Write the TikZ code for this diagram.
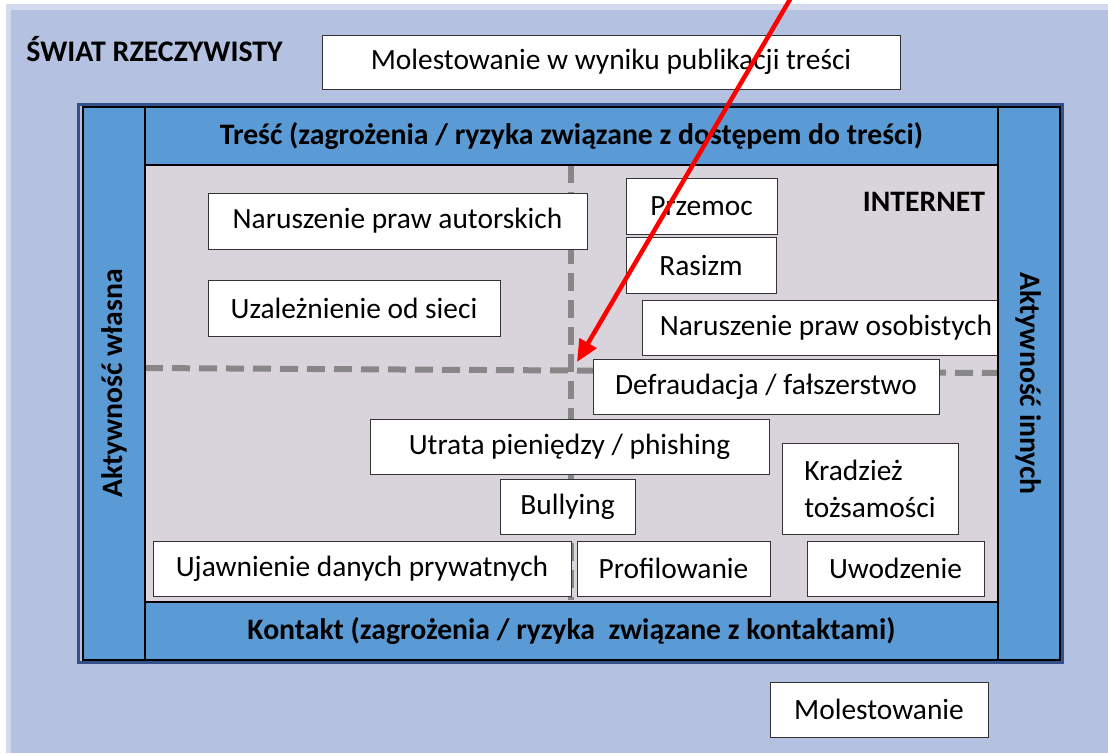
\documentclass[tikz,border=0pt]{standalone}
\usepackage{fontspec}
\setmainfont{Carlito}
\usetikzlibrary{arrows.meta}

\definecolor{worldbg}{HTML}{B4C1E0}
\definecolor{worldedge}{HTML}{D3DAEE}
\definecolor{barblue}{HTML}{5B9BD5}
\definecolor{netgray}{HTML}{D9D4DB}
\definecolor{framenavy}{HTML}{34508A}
\definecolor{dashgray}{HTML}{7F7F7F}

\tikzset{
  risk/.style={draw=black!80, fill=white, line width=0.9pt, minimum height=55pt, inner sep=0pt, font=\fontsize{29.4}{37}\selectfont},
  bar/.style={draw=black, fill=barblue, line width=1.5pt, inner sep=0pt, font=\fontsize{29.7}{36}\selectfont\bfseries},
  divider/.style={dashgray, opacity=0.9, line width=6pt, dash pattern=on 18pt off 9pt},
  pointer/.style={red, line width=4.5pt, -{Triangle[length=22pt,width=19pt]}},
}

\begin{document}
\begin{tikzpicture}[x=1pt,y=-1pt]
  \useasboundingbox (0,0) rectangle (1108,753);
  \clip (0,0) rectangle (1108,753);

  % real world
  \fill[white] (0,0) rectangle (1108,753);
  \fill[worldedge] (6,4) rectangle (1108,753);
  \fill[worldbg] (11,10) rectangle (1108,753);

  \node[font=\fontsize{29.9}{36}\selectfont\bfseries] (world) at (154.5,49) {ŚWIAT RZECZYWISTY};
  \node[risk, minimum width=578pt, minimum height=54pt] (publ) at (611,62) {Molestowanie w wyniku publikacji treści};
  \node[risk, minimum width=218pt] (moles) at (879,709.5) {Molestowanie};

  % internet
  \draw[framenavy, line width=3pt] (78.5,104.5) rectangle (1062,662);
  \draw[fill=netgray, line width=1pt] (145,165) rectangle (998,602);
  \node[font=\fontsize{29.7}{36}\selectfont\bfseries] (net) at (924,202) {INTERNET};

  \coordinate (divW) at (145,368);
  \coordinate (divE) at (998,373);
  \coordinate (divN) at (571,165);
  \coordinate (divS) at (571,600);
  \coordinate (cross) at (571,368);
  \draw[divider] (divW) -- (divE);
  \draw[divider] (divN) -- (divS);

  \node[risk, minimum width=379pt, minimum height=56pt] (autor) at (397.5,221) {Naruszenie praw autorskich};
  \node[risk, minimum width=292pt, minimum height=56pt] (uzal) at (354,308) {Uzależnienie od sieci};
  \node[risk, minimum width=151pt, minimum height=56pt] (przemoc) at (701.5,206) {Przemoc};
  \node[risk, minimum width=150pt, minimum height=56pt] (rasizm) at (701,265) {Rasizm\hspace{22pt}};
  \node[risk, minimum width=356pt] (osob) at (820,327.5) {\hspace{12pt}Naruszenie praw osobistych};
  \node[risk, minimum width=346pt] (defr) at (766,386.5) {Defraudacja / fałszerstwo};
  \node[risk, minimum width=399pt] (utrata) at (569.5,446.5) {Utrata pieniędzy / phishing};
  \node[risk, minimum width=135pt] (bully) at (567.5,506.5) {Bullying};
  \node[risk, minimum width=176pt, minimum height=91pt, align=left] (kradz) at (870,488.5) {Kradzież\\tożsamości};
  \node[risk, minimum width=418pt] (ujaw) at (362,568.5) {Ujawnienie danych prywatnych};
  \node[risk, minimum width=193pt] (profil) at (673.5,568.5) {Profilowanie};
  \node[risk, minimum width=177pt] (uwodz) at (895.5,568.5) {Uwodzenie};

  % frame bars
  \node[bar, minimum width=853pt, minimum height=58pt] (tresc) at (571.5,136) {Treść (zagrożenia / ryzyka związane z dostępem do treści)};
  \node[bar, minimum width=853pt, minimum height=58pt] (kontakt) at (571.5,631) {Kontakt (zagrożenia / ryzyka~ związane z kontaktami)};
  \node[bar, rotate=90, minimum width=553pt, minimum height=62pt] (own) at (114,383.5) {Aktywność własna};
  \node[bar, rotate=-90, minimum width=553pt, minimum height=62pt] (others) at (1029,383.5) {Aktywność innych};

  % red pointer
  \coordinate (arrowtail) at (792,-4);
  \coordinate (arrowtip) at (577,362);
  \draw[pointer] (arrowtail) -- (arrowtip);

\end{tikzpicture}
\end{document}
